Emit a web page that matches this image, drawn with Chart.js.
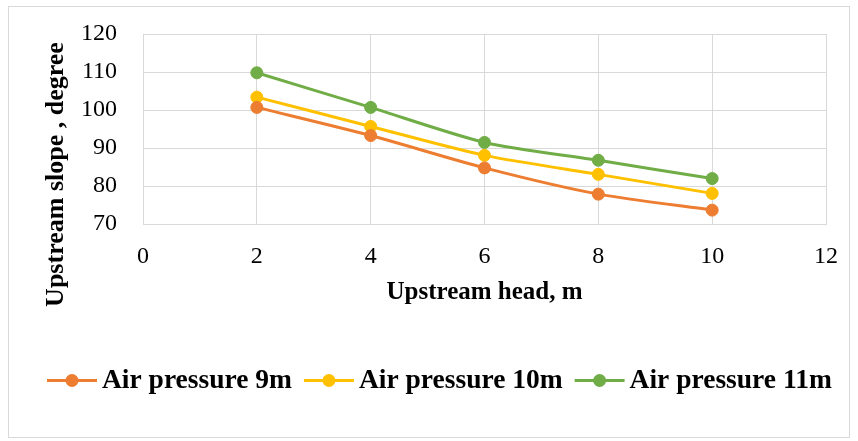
<!DOCTYPE html>
<html lang="en">
<head>
<meta charset="UTF-8" />
<title>Upstream slope vs upstream head</title>
<style>
  body {
    margin: 0;
    background: #fff;
  }
  #wrap {
    width: 858px;
    height: 441px;
  }
</style>
</head>
<body>
  <div id="wrap">
    <canvas id="slopeChart" width="858" height="441"></canvas>
  </div>

  <script src="https://cdn.jsdelivr.net/npm/chart.js"></script>
  <script>
    // Data
    const heads = [2, 4, 6, 8, 10];
    const slope9m = [100.7, 93.3, 84.8, 77.9, 73.7];
    const slope10m = [103.4, 95.7, 88.1, 83.1, 78.1];
    const slope11m = [109.8, 100.7, 91.5, 86.8, 82.0];
    const seriesNames = ['Air pressure 9m', 'Air pressure 10m', 'Air pressure 11m'];
    const seriesColors = ['#ED7D31', '#FFC000', '#70AD47'];
    const xTicks = [0, 2, 4, 6, 8, 10, 12];
    const yTicks = [70, 80, 90, 100, 110, 120];

    const FONT = "'Liberation Serif', 'Times New Roman', serif";
    const GRID = '#d9d9d9';

    function toPoints(values) {
      return values.map((v, i) => ({ x: heads[i], y: v }));
    }

    const datasets = [slope9m, slope10m, slope11m].map((vals, i) => ({
      label: seriesNames[i],
      data: toPoints(vals),
      borderColor: seriesColors[i],
      backgroundColor: seriesColors[i],
      borderWidth: 3,
      pointRadius: 6,
      pointBorderWidth: 1,
      pointBorderColor: seriesColors[i],
      pointBackgroundColor: seriesColors[i],
      tension: 0.25,
      fill: false
    }));

    // outer frame + rotated y title + bottom legend
    const decorations = {
      id: 'decorations',
      beforeDraw(chart) {
        const c = chart.ctx;
        c.save();
        c.fillStyle = '#fff';
        c.fillRect(0, 0, chart.width, chart.height);
        c.strokeStyle = GRID;
        c.lineWidth = 1;
        c.strokeRect(8.5, 6.5, 841, 431);
        c.restore();
      },
      afterDraw(chart) {
        const c = chart.ctx;
        c.save();
        // y axis title
        c.translate(56, 174.5);
        c.rotate(-Math.PI / 2);
        c.font = 'bold 26px ' + FONT;
        c.fillStyle = '#000';
        c.textAlign = 'center';
        c.textBaseline = 'middle';
        c.fillText('Upstream slope , degree', 0, 0);
        c.restore();

        // legend
        c.save();
        c.font = 'bold 27.5px ' + FONT;
        c.textBaseline = 'middle';
        c.textAlign = 'left';
        let x = 47;
        const y = 380.5;
        chart.data.datasets.forEach(ds => {
          c.strokeStyle = ds.borderColor;
          c.lineWidth = 3;
          c.beginPath();
          c.moveTo(x, y);
          c.lineTo(x + 50, y);
          c.stroke();
          c.fillStyle = ds.borderColor;
          c.beginPath();
          c.arc(x + 25, y, 6.5, 0, Math.PI * 2);
          c.fill();
          c.fillStyle = '#000';
          c.fillText(ds.label, x + 55, y);
          x += 55 + c.measureText(ds.label).width + 12;
        });
        c.restore();
      }
    };

    const ctx = document.getElementById('slopeChart').getContext('2d');
    const slopeChart = new Chart(ctx, {
      type: 'line',
      data: { datasets: datasets },
      options: {
        responsive: false,
        animation: false,
        layout: {
          padding: { left: 80, right: 32, top: 34, bottom: 133 }
        },
        plugins: {
          legend: { display: false },
          tooltip: { enabled: false }
        },
        scales: {
          x: {
            type: 'linear',
            min: xTicks[0],
            max: xTicks[xTicks.length - 1],
            afterBuildTicks: scale => {
              scale.ticks = xTicks.map(v => ({ value: v }));
            },
            grid: { color: GRID, drawTicks: false },
            border: { color: GRID },
            ticks: {
              padding: 18,
              color: '#000',
              font: { family: FONT, size: 24 }
            },
            title: {
              display: true,
              text: 'Upstream head, m',
              color: '#000',
              padding: { top: -11, bottom: 0 },
              font: { family: FONT, size: 25, weight: 'bold' }
            }
          },
          y: {
            min: yTicks[0],
            max: yTicks[yTicks.length - 1],
            afterBuildTicks: scale => {
              scale.ticks = yTicks.map(v => ({ value: v }));
            },
            afterFit: scale => {
              scale.width = 63;
              scale.paddingTop = 0;
              scale.paddingBottom = 0;
            },
            grid: { color: GRID, drawTicks: false },
            border: { color: GRID },
            ticks: {
              padding: 26,
              color: '#000',
              font: { family: FONT, size: 24 }
            }
          }
        }
      },
      plugins: [decorations]
    });
  </script>
</body>
</html>
